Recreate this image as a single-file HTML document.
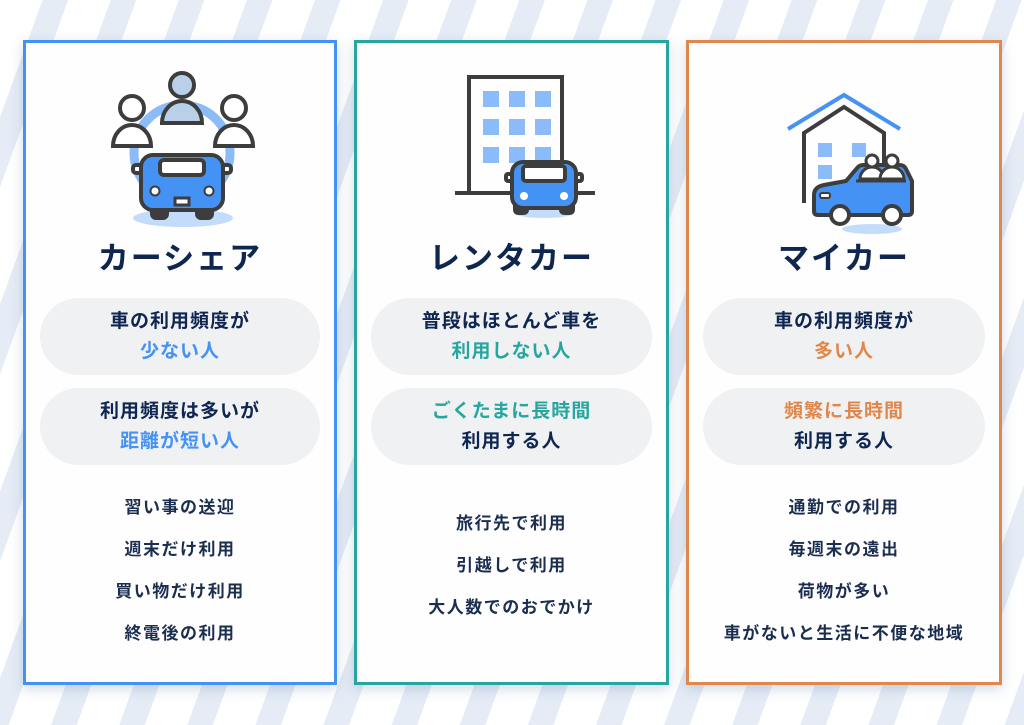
<!DOCTYPE html>
<html><head><meta charset="utf-8"><style>
*{margin:0;padding:0;box-sizing:border-box}
body{width:1024px;height:725px;overflow:hidden;position:relative;font-family:"Liberation Sans","Noto Sans CJK JP",sans-serif;
background:repeating-linear-gradient(110deg,#ffffff 0 40px,#e5ecf6 40px 64px);}
.card{position:absolute;top:40px;height:645px;background:#fefefe;border:3px solid;box-shadow:0 4px 12px rgba(80,110,160,.25)}
.t{position:absolute;left:0;right:0;top:196px;line-height:40px;text-align:center;font-size:31px;font-weight:bold;color:#0e2650;letter-spacing:2px}
.pill{position:absolute;left:14px;right:14px;height:77px;border-radius:39px;background:#f0f1f2;text-align:center;font-size:19px;font-weight:bold;color:#0e2650;line-height:30px;padding-top:9px;letter-spacing:1px}
.li{position:absolute;left:0;right:0;text-align:center;font-size:17px;font-weight:bold;color:#1b2e50;letter-spacing:1.5px;line-height:42px}
svg{position:absolute;overflow:visible}
</style></head><body>
<div class="card" style="left:23px;width:314px;border-color:#4592f5">
 <svg style="left:82px;top:30px" width="160" height="160" viewBox="0 0 160 160">
  <circle cx="74" cy="80" r="48" fill="none" stroke="#8cbcf8" stroke-width="9"/>
  <ellipse cx="75" cy="145" rx="50" ry="9" fill="#c4dcfb"/>
  <g stroke="#3d3d3d" stroke-width="4" fill="#fff">
  <circle cx="24" cy="35" r="12"/><path d="M5 73 a19 21 0 0 1 38 0z"/>
  <circle cx="126" cy="35" r="12"/><path d="M107 73 a19 21 0 0 1 38 0z"/>
  <circle cx="74" cy="12" r="12" fill="#bacfe8"/><path d="M54 50 a20 22 0 0 1 40 0z" fill="#bacfe8"/>
  <rect x="44" y="130" width="15" height="15" rx="4" fill="#3d3d3d"/><rect x="89" y="130" width="15" height="15" rx="4" fill="#3d3d3d"/>
  <rect x="25" y="92" width="14" height="8" rx="3"/><rect x="109" y="92" width="14" height="8" rx="3"/>
  <rect x="33" y="82" width="82" height="55" rx="12" fill="#4592f5"/>
  <rect x="52" y="87" width="44" height="15" rx="4"/>
  </g>
  <rect x="67" y="125" width="14" height="7" fill="#fff" stroke="#3d3d3d" stroke-width="3"/>
  <circle cx="47" cy="118" r="4.5" fill="#fff" stroke="#3d3d3d" stroke-width="2"/><circle cx="101" cy="118" r="4.5" fill="#fff" stroke="#3d3d3d" stroke-width="2"/>
 </svg>
 <div class="t">カーシェア</div>
 <div class="pill" style="top:255px">車の利用頻度が<br><span style="color:#4592f5">少ない人</span></div>
 <div class="pill" style="top:345px">利用頻度は多いが<br><span style="color:#4592f5">距離が短い人</span></div>
 <div class="li" style="top:444px">習い事の送迎<br>週末だけ利用<br>買い物だけ利用<br>終電後の利用</div>
</div>
<div class="card" style="left:354px;width:315px;border-color:#27a6a0">
 <svg style="left:90px;top:20px" width="160" height="160" viewBox="0 0 160 160">
  <path d="M22 130 V14 H115 V130" fill="none" stroke="#3d3d3d" stroke-width="4"/>
  <line x1="8" y1="130" x2="148" y2="130" stroke="#3d3d3d" stroke-width="4"/>
  <g fill="#8bbcf9"><rect x="36" y="28" width="16" height="16"/><rect x="62" y="28" width="16" height="16"/><rect x="88" y="28" width="16" height="16"/>
  <rect x="36" y="56" width="16" height="16"/><rect x="62" y="56" width="16" height="16"/><rect x="88" y="56" width="16" height="16"/>
  <rect x="36" y="84" width="16" height="16"/><rect x="62" y="84" width="16" height="16"/><rect x="88" y="84" width="16" height="16"/></g>
  <ellipse cx="97" cy="150" rx="30" ry="5" fill="#c4dcfb"/>
  <g stroke="#3d3d3d" stroke-width="4"><rect x="68" y="140" width="12" height="10" rx="3" fill="#3d3d3d"/><rect x="114" y="140" width="12" height="10" rx="3" fill="#3d3d3d"/>
  <rect x="59" y="111" width="10" height="7" rx="2" fill="#fff"/><rect x="125" y="111" width="10" height="7" rx="2" fill="#fff"/>
  <rect x="65" y="99" width="64" height="46" rx="11" fill="#4592f5"/><rect x="76" y="103" width="42" height="15" rx="3" fill="#fff"/></g>
  <circle cx="77" cy="133" r="4" fill="#fff"/><circle cx="117" cy="133" r="4" fill="#fff"/>
 </svg>
 <div class="t">レンタカー</div>
 <div class="pill" style="top:255px">普段はほとんど車を<br><span style="color:#27a6a0">利用しない人</span></div>
 <div class="pill" style="top:345px"><span style="color:#27a6a0">ごくたまに長時間</span><br>利用する人</div>
 <div class="li" style="top:460px">旅行先で利用<br>引越しで利用<br>大人数でのおでかけ</div>
</div>
<div class="card" style="left:686px;width:316px;border-color:#e0874b">
 <svg style="left:95px;top:40px" width="140" height="150" viewBox="0 0 140 150">
  <path d="M4 46 L60 12 L116 46" fill="none" stroke="#4592f5" stroke-width="4"/>
  <path d="M20 120 V50 L60 24 L100 50 V100" fill="none" stroke="#3d3d3d" stroke-width="4"/>
  <g fill="#8bbcf9"><rect x="34" y="60" width="14" height="14"/><rect x="68" y="60" width="14" height="14"/><rect x="34" y="82" width="14" height="14"/></g>
  <ellipse cx="88" cy="146" rx="30" ry="5" fill="#c4dcfb"/>
  <path d="M30 112 Q30 104 40 102 L62 98 L74 84 Q76 82 80 82 H116 Q120 82 122 86 L128 98 V128 Q128 132 124 132 H34 Q30 132 30 128 Z" fill="#4592f5" stroke="#3d3d3d" stroke-width="4"/>
  <g stroke="#3d3d3d" stroke-width="3" fill="#fff"><circle cx="88" cy="78" r="6"/><circle cx="108" cy="78" r="6"/><path d="M76 96 a12 12 0 0 1 24 0z"/><path d="M96 96 a12 12 0 0 1 24 0z"/></g>
  <line x1="72" y1="98" x2="122" y2="98" stroke="#3d3d3d" stroke-width="3"/>
  <rect x="36" y="110" width="10" height="5" rx="2" fill="#fff" stroke="#3d3d3d" stroke-width="2"/>
  <g stroke="#3d3d3d" stroke-width="4" fill="#fff"><circle cx="56" cy="132" r="9"/><circle cx="108" cy="132" r="9"/></g>
 </svg>
 <div class="t">マイカー</div>
 <div class="pill" style="top:255px">車の利用頻度が<br><span style="color:#e0874b">多い人</span></div>
 <div class="pill" style="top:345px"><span style="color:#e0874b">頻繁に長時間</span><br>利用する人</div>
 <div class="li" style="top:444px">通勤での利用<br>毎週末の遠出<br>荷物が多い<br>車がないと生活に不便な地域</div>
</div>
</body></html>
